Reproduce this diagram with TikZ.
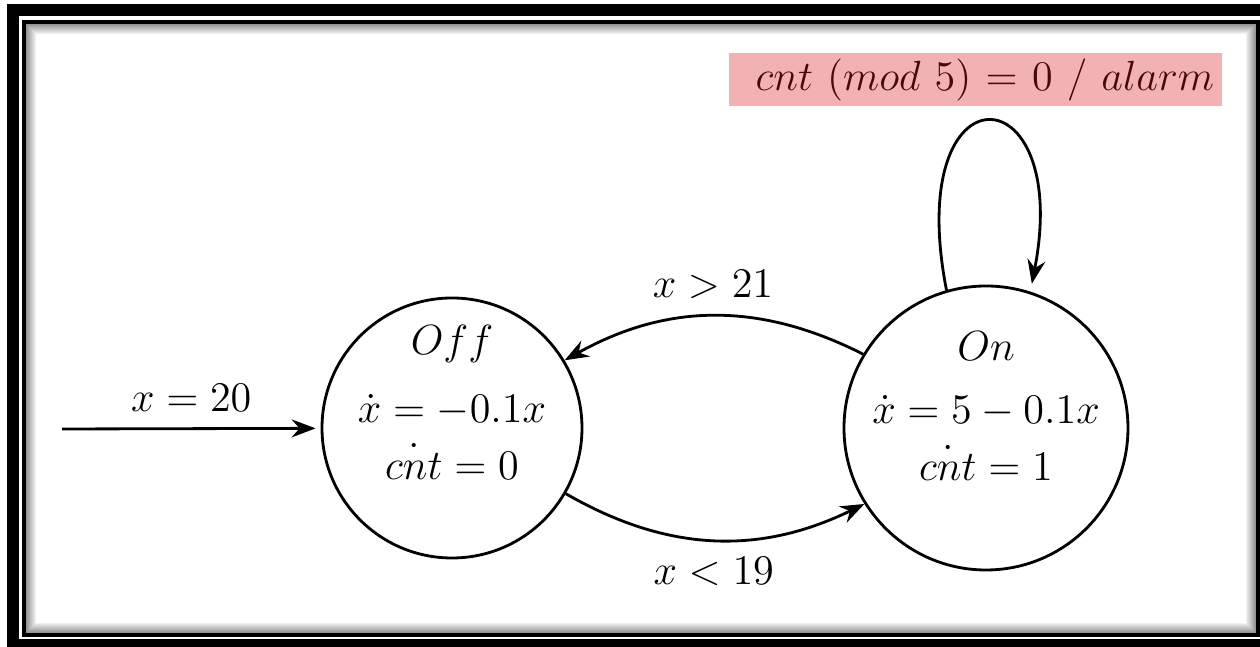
\documentclass[tikz,border=0pt]{standalone}
\usepackage{tikz}
\usetikzlibrary{arrows.meta,positioning,calc}
\definecolor{hilite}{RGB}{240,178,178}
\definecolor{hiltext}{RGB}{70,8,8}
\tikzset{
  every picture/.style = {
    font=\large
  },
  state/.style={
    circle,
    draw,
    thick,
    inner sep=0pt
  },
  statetxt/.style={
    anchor=north,
    align=center,
    inner sep=0pt
  },
  trans/.style={
    thick,
    -{Stealth[length=2.4mm,width=1.8mm,inset=0.8mm]}
  },
  guard/.style={
    inner sep=0.16cm
  },
  alarmlbl/.style={
    fill=hilite,
    text=hiltext,
    text width=4.77cm,
    align=right,
    inner xsep=0.08cm,
    inner ysep=0pt,
    minimum height=0.53cm
  }
}

\begin{document}
\begin{tikzpicture}
    \useasboundingbox (0,0) rectangle (12.6,-6.47);
    % frame
    \draw[line width=0.12cm] (0.13,-0.10) rectangle (12.73,-6.45);
    \draw[line width=0.04cm] (0.24,-0.22) rectangle (12.58,-6.35);
    \foreach \i [evaluate=\i as \shd using 46-4*\i] in {1,...,10}
        \draw[line width=0.011cm, black!\shd] (0.26+\i*0.01-0.005,-0.24-\i*0.01+0.005) rectangle (12.56-\i*0.01+0.005,-6.33+\i*0.01-0.005);
    % states
    \node[state, minimum size=2.6cm] (off) at (4.52,-4.28) {};
    \node[state, minimum size=2.84cm] (on) at (9.86,-4.28) {};
    \node[statetxt] (offtxt) at ([yshift=1.03cm]off.center) {$Off$\\[0.18cm]$\dot{x} = -0.1x$\\[0.08cm]$\dot{cnt} = 0$};
    \node[statetxt] (ontxt) at ([yshift=0.97cm]on.center) {$On$\\[0.14cm]$\dot{x} = 5 - 0.1x$\\[0.08cm]$\dot{cnt} = 1$};
    % transitions
    \coordinate (start) at (0.62,-4.29);
    \draw[trans, shorten >=0.05cm] (start) -- node[above, guard] {$x = 20$} (off);
    \draw[trans] (on.149) to[bend right=28] node[above, guard] {$x > 21$} (off.31);
    \draw[trans] (off.-30) to[bend right=28] node[below, guard] {$x < 19$} (on.-148);
    \draw[trans, shorten >=0.08cm] (on.106) .. controls +(101:2.33) and +(79:2.25) .. (on.72);
    \node[alarmlbl] (alarm) at (9.755,-0.795) {$cnt\ (mod\ 5) = 0\ /\ alarm$};
\end{tikzpicture}
\end{document}
